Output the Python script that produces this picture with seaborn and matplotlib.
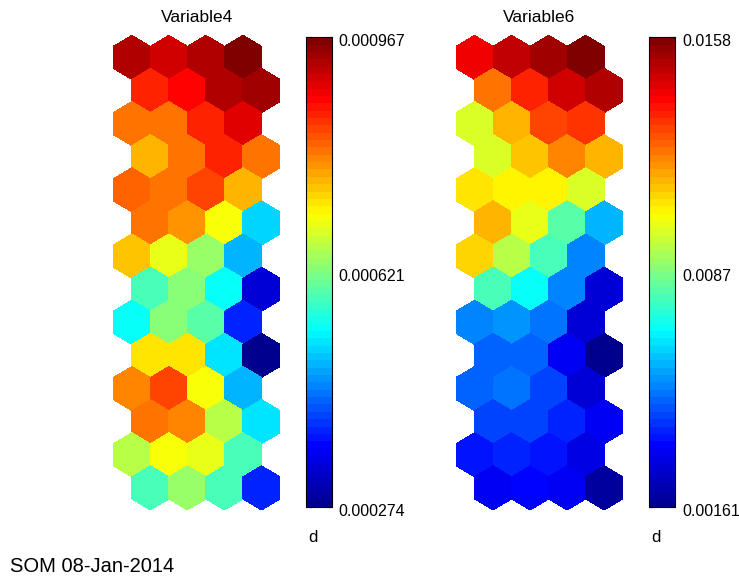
import numpy as np
import matplotlib
matplotlib.use("Agg")
import matplotlib.pyplot as plt
from matplotlib.collections import PolyCollection
from matplotlib.colors import Normalize, LinearSegmentedColormap
from matplotlib.transforms import ScaledTranslation
import seaborn as sns

# SOM component planes: 14 rows x 4 columns of hexagonal map units (top row first)
var4_rows = [
    [0.000932, 0.000905, 0.000932, 0.000967],
    [0.000856, 0.000870, 0.000925, 0.000939],
    [0.000794, 0.000794, 0.000856, 0.000898],
    [0.000752, 0.000801, 0.000856, 0.000801],
    [0.000815, 0.000794, 0.000828, 0.000752],
    [0.000801, 0.000773, 0.000697, 0.000503],
    [0.000745, 0.000686, 0.000641, 0.000482],
    [0.000586, 0.000631, 0.000534, 0.000329],
    [0.000537, 0.000631, 0.000593, 0.000392],
    [0.000728, 0.000728, 0.000513, 0.000274],
    [0.000787, 0.000828, 0.000697, 0.000482],
    [0.000794, 0.000783, 0.000662, 0.000513],
    [0.000662, 0.000707, 0.000686, 0.000579],
    [0.000586, 0.000641, 0.000579, 0.000392],
]
var6_rows = [
    [0.01424, 0.01474, 0.01523, 0.01580],
    [0.01239, 0.01353, 0.01466, 0.01509],
    [0.00984, 0.01154, 0.01296, 0.01325],
    [0.00984, 0.01119, 0.01204, 0.01154],
    [0.01090, 0.01048, 0.01048, 0.00984],
    [0.01147, 0.01005, 0.00814, 0.00601],
    [0.01098, 0.00941, 0.00785, 0.00516],
    [0.00785, 0.00707, 0.00537, 0.00289],
    [0.00516, 0.00558, 0.00494, 0.00289],
    [0.00473, 0.00473, 0.00317, 0.00161],
    [0.00473, 0.00494, 0.00431, 0.00275],
    [0.00445, 0.00445, 0.00402, 0.00317],
    [0.00381, 0.00402, 0.00381, 0.00303],
    [0.00317, 0.00360, 0.00338, 0.00189],
]
titles = ["Variable4", "Variable6"]
tick_labels = [
    ["0.000274", "0.000621", "0.000967"],
    ["0.00161", "0.0087", "0.0158"],
]
cbar_label = "d"
footer = "SOM 08-Jan-2014"

sns.set_theme(style="white")
plt.rcParams["font.family"] = ["Liberation Sans", "DejaVu Sans"]

W, H = 739, 578
fig = plt.figure(figsize=(W / 100, H / 100), dpi=100)
fig.patch.set_facecolor("white")

# classic 64-level "jet" ramp (blue -> cyan -> yellow -> red)
jet_segments = {
    "red": [(0, 0, 0), (0.375, 0, 0), (0.625, 1, 1), (0.875, 1, 1), (1, 0.5, 0.5)],
    "green": [(0, 0, 0), (0.125, 0, 0), (0.375, 1, 1), (0.625, 1, 1), (0.875, 0, 0), (1, 0, 0)],
    "blue": [(0, 0.5625, 0.5625), (0.125, 1, 1), (0.375, 1, 1), (0.625, 0, 0), (1, 0, 0)],
}
cmap = LinearSegmentedColormap("jet64", jet_segments, N=64)

n_rows, n_cols = len(var4_rows), len(var4_rows[0])
r = 1 / np.sqrt(3)
dy = np.sqrt(3) / 2
angles = np.deg2rad([90, 150, 210, 270, 330, 30])


def hex_cells(rows, cols):
    polys = []
    for i in range(rows):
        for j in range(cols):
            cx = j + 0.5 * (i % 2)
            cy = -i * dy
            polys.append(np.column_stack([cx + r * np.cos(angles), cy + r * np.sin(angles)]))
    return polys


def px_axes(x0, y0, x1, y1):
    return fig.add_axes([x0 / W, 1 - y1 / H, (x1 - x0) / W, (y1 - y0) / H])


layout = [
    dict(map=(113.3, 35.3, 280.0, 510.0), cbar=(305.7, 37.3, 331.7, 507.3), d=313),
    dict(map=(456.0, 35.3, 622.7, 510.0), cbar=(649.0, 37.3, 675.0, 507.3), d=656),
]

label_shift = ScaledTranslation(0, -3 / 100, fig.dpi_scale_trans)

for rows, title, labels, lay in zip([var4_rows, var6_rows], titles, tick_labels, layout):
    vals = np.asarray(rows, dtype=float)
    vmin, vmax = vals.min(), vals.max()
    norm = Normalize(vmin=vmin, vmax=vmax)

    ax = px_axes(*lay["map"])
    coll = PolyCollection(hex_cells(n_rows, n_cols), array=vals.ravel(), cmap=cmap,
                          norm=norm, edgecolors="none", linewidths=0, antialiaseds=False)
    ax.add_collection(coll)
    ax.set_xlim(-0.5, n_cols)
    ax.set_ylim(-(n_rows - 1) * dy - r, r)
    ax.axis("off")

    x0, y0, x1, y1 = lay["map"]
    fig.text(((x0 + x1) / 2) / W, 1 - 18 / H, title, ha="center", va="center",
             fontsize=12.5, color="black")

    cax = px_axes(*lay["cbar"])
    cb = fig.colorbar(coll, cax=cax, orientation="vertical")
    cb.set_ticks([vmin, (vmin + vmax) / 2, vmax])
    cb.set_ticklabels(labels)
    cb.outline.set_edgecolor("black")
    cb.outline.set_linewidth(0.8)
    cax.tick_params(axis="y", direction="in", left=True, right=True, length=4,
                    width=0.8, color="black", labelsize=11.5, pad=5, labelcolor="black")
    for lbl in cax.get_yticklabels():
        lbl.set_transform(lbl.get_transform() + label_shift)
    fig.text(lay["d"] / W, 1 - 537 / H, cbar_label, ha="center", va="center",
             fontsize=12, color="black")

fig.text(10 / W, 1 - 566 / H, footer, ha="left", va="center", fontsize=14.5, color="black")

fig.savefig("out.png", dpi=100, facecolor="white")
